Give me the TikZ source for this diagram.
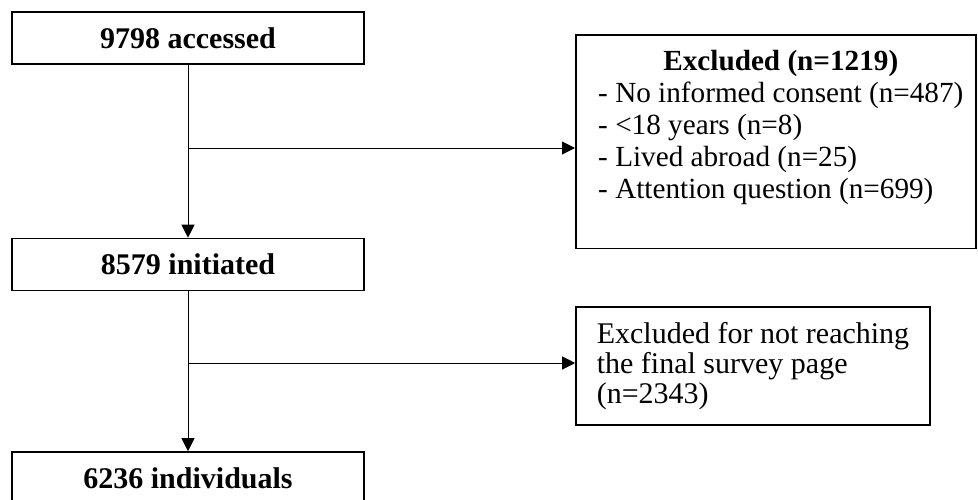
\documentclass[tikz,border=0pt]{standalone}
\usepackage{fontspec}
\setmainfont{Liberation Serif}
\usetikzlibrary{arrows.meta}

\begin{document}
\begin{tikzpicture}
[x=0.5pt,y=-0.5pt,
  boxDecorate/.style={draw,line width=0.8pt,minimum width=176pt,minimum height=26pt,inner sep=0pt,font=\bfseries\fontsize{15}{16}\selectfont},%
  exclDecorate/.style={draw,line width=0.8pt,inner xsep=4pt,font=\fontsize{14.6}{16}\selectfont},%
  lineDecorate/.style={-{Triangle[length=6.5pt,width=6.5pt]},line width=0.5pt}]
\useasboundingbox (0,0) rectangle (978,499);
%% main boxes
\foreach \nodename/\y/\txt in {accessed/38/9798 accessed, initiated/264.5/8579 initiated, individuals/478/6236 individuals}
{
  \node (\nodename) at (188,\y) [boxDecorate] {\txt};
}
%% exclusion boxes
\node (excludedA) at (575,34) [exclDecorate,anchor=north west,inner ysep=6.8pt,text depth=82pt,minimum width=200pt]
  {\begin{tabular}[t]{@{\hskip5pt}l@{}}
   \multicolumn{1}{@{\hskip5pt}c@{}}{\textbf{Excluded (n=1219)}}\\
   - No informed consent (n=487)\\
   - <18 years (n=8)\\
   - Lived abroad (n=25)\\
   - Attention question (n=699)
   \end{tabular}};
\node (excludedB) at (753,366) [exclDecorate,inner xsep=8.5pt,align=left,minimum width=177pt,minimum height=59pt,font=\fontsize{15}{15}\selectfont]
  {Excluded for not reaching\\the final survey page\\(n=2343)};
%% edges
\coordinate (branchA) at (188,148);
\coordinate (branchB) at (188,363);
\path
\foreach \startnode/\endnode in {accessed/initiated, initiated/individuals} {
  (\startnode) edge[lineDecorate] (\endnode)
};
\draw[lineDecorate] (branchA) -- (branchA -| excludedA.west);
\draw[lineDecorate] (branchB) -- (branchB -| excludedB.west);
\end{tikzpicture}
\end{document}
